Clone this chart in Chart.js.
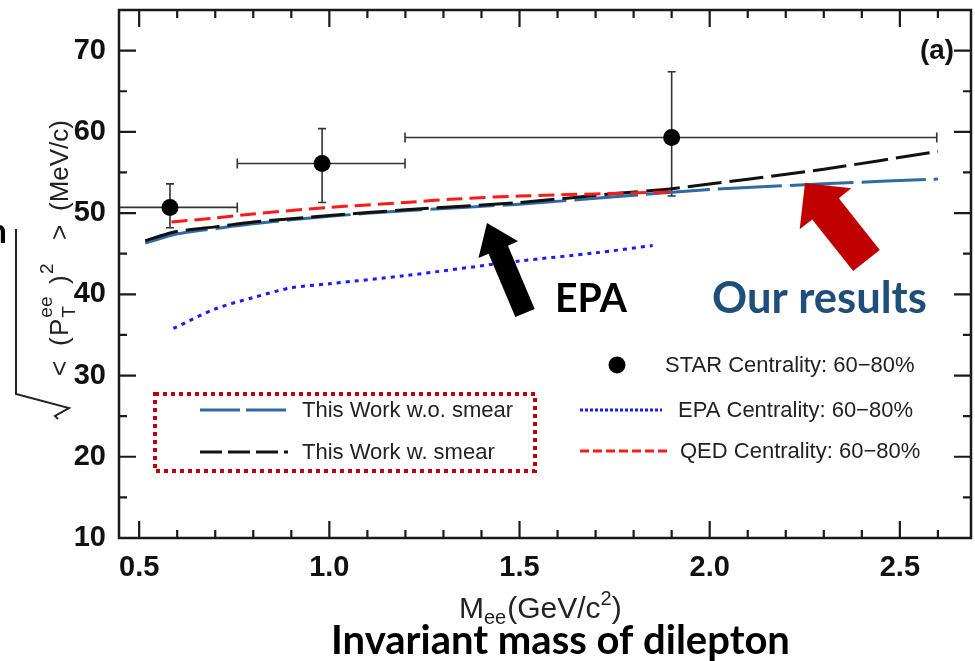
<!DOCTYPE html>
<html><head><meta charset="utf-8">
<script src="https://cdn.jsdelivr.net/npm/chart.js@4.4.1/dist/chart.umd.min.js"></script>
<style>html,body{margin:0;padding:0;background:#fff;overflow:hidden}#wrap{width:975px;height:661px;position:relative}</style>
</head><body><div id="wrap"><canvas id="c" width="975" height="661"></canvas></div>
<script>
// ---------------- data ----------------
const starMass  = [0.581, 0.981, 1.90];
const starPt    = [50.7, 56.1, 59.3];
const starMassLo = [0.40, 0.758, 1.199];
const starMassHi = [0.758, 1.199, 2.597];
const starPtLo  = [48.2, 51.3, 52.1];
const starPtHi  = [53.6, 60.4, 67.4];

const noSmearMass = [0.516, 0.595, 0.7, 0.8, 1.0, 1.2, 1.5, 1.75, 2.0, 2.3, 2.6];
const noSmearPt   = [46.3, 47.4, 48.1, 48.7, 49.6, 50.3, 51.1, 52.0, 52.9, 53.6, 54.2];
const smearMass   = [0.516, 0.595, 0.7, 0.8, 1.0, 1.2, 1.5, 1.75, 1.9, 2.3, 2.6];
const smearPt     = [46.6, 47.7, 48.3, 48.9, 49.7, 50.4, 51.3, 52.4, 53.0, 55.4, 57.6];
const qedMass     = [0.585, 0.7, 0.8, 1.0, 1.2, 1.32, 1.5, 1.9];
const qedPt       = [48.9, 49.4, 49.9, 50.7, 51.3, 51.7, 52.1, 52.6];
const epaMass     = [0.59, 0.7, 0.8, 0.9, 1.0, 1.2, 1.5, 1.7, 1.85];
const epaPt       = [35.8, 38.2, 39.6, 40.8, 41.3, 42.3, 44.1, 45.1, 46.0];

const xTickValues = [0.5, 1.0, 1.5, 2.0, 2.5];
const yTickValues = [10, 20, 30, 40, 50, 60, 70];

const labels = {
  star: 'STAR Centrality: 60\u221280%',
  epa: 'EPA Centrality: 60\u221280%',
  qed: 'QED Centrality: 60\u221280%',
  noSmear: 'This Work w.o. smear',
  smear: 'This Work w. smear'
};

const pts = (xs, ys) => xs.map((x, i) => ({x: x, y: ys[i]}));

const COL = {
  noSmear: '#2f6aa3', smear: '#111111', qed: '#ff1a1a', epa: '#1a1aff', star: '#000000', box: '#c00000',
  redArrow: '#c00000', ours: '#1f4e79', text: '#222222'
};

const AX = '"Liberation Sans", Arial, sans-serif';
const CAL = 'Lato, "Open Sans", sans-serif';

// --------------- plugins ---------------
const errorBars = {
  id: 'errorBars',
  beforeDatasetsDraw(chart) {
    const {ctx, chartArea: a, scales: {x, y}} = chart;
    ctx.save();
    ctx.beginPath(); ctx.rect(a.left, a.top, a.right - a.left, a.bottom - a.top); ctx.clip();
    ctx.strokeStyle = '#333'; ctx.lineWidth = 1.6;
    for (let i = 0; i < starMass.length; i++) {
      const px = x.getPixelForValue(starMass[i]), py = y.getPixelForValue(starPt[i]);
      const xl = x.getPixelForValue(starMassLo[i]), xh = x.getPixelForValue(starMassHi[i]);
      const yl = y.getPixelForValue(starPtLo[i]), yh = y.getPixelForValue(starPtHi[i]);
      ctx.beginPath();
      ctx.moveTo(xl, py); ctx.lineTo(xh, py);
      ctx.moveTo(xl, py - 5); ctx.lineTo(xl, py + 5);
      ctx.moveTo(xh, py - 5); ctx.lineTo(xh, py + 5);
      ctx.moveTo(px, yl); ctx.lineTo(px, yh);
      ctx.moveTo(px - 4, yl); ctx.lineTo(px + 4, yl);
      ctx.moveTo(px - 4, yh); ctx.lineTo(px + 4, yh);
      ctx.stroke();
    }
    ctx.restore();
  }
};

function fitSize(ctx, text, weight, family, targetW) {
  ctx.font = `${weight} 100px ${family}`;
  return 100 * targetW / ctx.measureText(text).width;
}
function fitText(ctx, text, weight, family, left, baseline, targetW, color) {
  const s = fitSize(ctx, text, weight, family, targetW);
  ctx.font = `${weight} ${s}px ${family}`;
  ctx.fillStyle = color; ctx.textAlign = 'left'; ctx.textBaseline = 'alphabetic';
  ctx.fillText(text, left, baseline);
}

function arrow(ctx, tail, tip, shaftHalf, headHalf, headLen, color) {
  const dx = tip[0] - tail[0], dy = tip[1] - tail[1];
  const L = Math.hypot(dx, dy), ux = dx / L, uy = dy / L, nx = -uy, ny = ux;
  const bx = tip[0] - ux * headLen, by = tip[1] - uy * headLen;
  ctx.beginPath();
  ctx.moveTo(tail[0] + nx * shaftHalf, tail[1] + ny * shaftHalf);
  ctx.lineTo(bx + nx * shaftHalf, by + ny * shaftHalf);
  ctx.lineTo(bx + nx * headHalf, by + ny * headHalf);
  ctx.lineTo(tip[0], tip[1]);
  ctx.lineTo(bx - nx * headHalf, by - ny * headHalf);
  ctx.lineTo(bx - nx * shaftHalf, by - ny * shaftHalf);
  ctx.lineTo(tail[0] - nx * shaftHalf, tail[1] - ny * shaftHalf);
  ctx.closePath();
  ctx.fillStyle = color; ctx.fill();
}

const decor = {
  id: 'decor',
  afterDraw(chart) {
    const {ctx, chartArea: a, scales: {x, y}} = chart;
    ctx.save();
    // frame
    ctx.strokeStyle = '#1a1a1a'; ctx.lineWidth = 2.5;
    ctx.strokeRect(a.left, a.top, a.right - a.left, a.bottom - a.top);
    // ticks (inward, all sides)
    ctx.lineWidth = 2.2;
    ctx.beginPath();
    for (let v = 0.5; v <= 2.65; v += 0.1) {
      const p = x.getPixelForValue(v);
      const major = Math.abs(v * 2 - Math.round(v * 2)) < 1e-6;
      const len = major ? 17 : 8;
      ctx.moveTo(p, a.bottom); ctx.lineTo(p, a.bottom - len);
      ctx.moveTo(p, a.top); ctx.lineTo(p, a.top + len);
    }
    for (let v = 10; v <= 75; v += 5) {
      const p = y.getPixelForValue(v);
      const major = v % 10 === 0;
      const len = major ? 17 : 8;
      ctx.moveTo(a.left, p); ctx.lineTo(a.left + len, p);
      ctx.moveTo(a.right, p); ctx.lineTo(a.right - len, p);
    }
    ctx.stroke();

    // legend box 1 (dotted red)
    ctx.strokeStyle = COL.box; ctx.lineWidth = 4; ctx.setLineDash([4, 4]);
    ctx.strokeRect(155, 394, 380, 77);
    ctx.setLineDash([]);

    const ds = chart.data.datasets;
    const legLine = (d, x0, x1, yy) => {
      ctx.save(); ctx.strokeStyle = d.borderColor; ctx.lineWidth = d.borderWidth;
      ctx.setLineDash(d.legendDash || d.borderDash || []);
      ctx.beginPath(); ctx.moveTo(x0, yy); ctx.lineTo(x1, yy); ctx.stroke(); ctx.restore();
    };
    ctx.font = `22px ${AX}`; ctx.fillStyle = COL.text; ctx.textBaseline = 'alphabetic'; ctx.textAlign = 'left';
    legLine(ds[3], 200, 288, 410); ctx.fillText(ds[3].label, 302, 417);
    legLine(ds[2], 200, 288, 452); ctx.fillText(ds[2].label, 302, 459);
    // legend 2
    ctx.beginPath(); ctx.arc(617, 365, 8.5, 0, Math.PI * 2); ctx.fillStyle = '#000'; ctx.fill();
    ctx.fillStyle = COL.text;
    ctx.fillText(ds[0].label, 665, 372);
    legLine(ds[4], 580, 662, 410); ctx.fillText(ds[4].label, 678, 417);
    legLine(ds[1], 580, 667, 451); ctx.fillText(ds[1].label, 680, 458);

    // (a)
    fitText(ctx, '(a)', 'bold', AX, 920, 59, 34, '#111');

    // arrows + annotations
    arrow(ctx, [525, 313], [487, 223], 10.5, 21.5, 29, '#000');
    arrow(ctx, [866.5, 260.5], [805, 183], 17, 33, 33, COL.redArrow);
    fitText(ctx, 'EPA', 'bold', CAL, 555, 312, 72, '#000');
    fitText(ctx, 'Our results', 'bold', CAL, 712, 313, 215, COL.ours);
    fitText(ctx, 'Invariant mass of dilepton', 'bold', CAL, 331, 654, 459, '#000');
    // clipped fragment at far left
    ctx.font = `bold 34px ${CAL}`; ctx.fillStyle = '#000';
    ctx.textAlign = 'right'; ctx.fillText('n', 7, 243); ctx.textAlign = 'left';

    // x axis title: M_ee(GeV/c^2)
    {
      const F = 30, S = 20; let u = 459; const base = 618;
      ctx.fillStyle = COL.text;
      ctx.font = `${F}px ${AX}`; ctx.fillText('M', u, base); u += ctx.measureText('M').width;
      ctx.font = `${S}px ${AX}`; ctx.fillText('ee', u, base + 6); u += ctx.measureText('ee').width + 1;
      ctx.font = `${F}px ${AX}`; ctx.fillText('(GeV/c', u, base); u += ctx.measureText('(GeV/c').width;
      ctx.font = `${S}px ${AX}`; ctx.fillText('2', u, base - 13); u += ctx.measureText('2').width;
      ctx.font = `${F}px ${AX}`; ctx.fillText(')', u, base);
    }

    // y axis title: sqrt(< (P_T^ee)^2 >) (MeV/c), rotated
    {
      ctx.save();
      ctx.translate(68, 420); ctx.rotate(-Math.PI / 2);
      ctx.fillStyle = COL.text; ctx.strokeStyle = COL.text;
      const F = 26, S = 19;
      const put = (t, size, u, v) => { ctx.font = `${size}px ${AX}`; ctx.fillText(t, u, v); return ctx.measureText(t).width; };
      put('<', F, 44, 0);
      put('(', F, 74, 0);
      const wP = put('P', F, 84, 0);
      put('T', S, 85 + wP, 7);
      put('ee', S, 85 + wP, -16);
      put(')', F, 136, 0);
      put('2', S, 146, -15);
      put('>', F, 180, 0);
      put('(MeV/c)', F, 209, 0);
      // radical
      ctx.lineWidth = 2; ctx.lineJoin = 'miter';
      ctx.beginPath();
      ctx.moveTo(191, -52); ctx.lineTo(26, -52);
      ctx.lineTo(12, 1); ctx.lineTo(4, -13); ctx.lineTo(1, -10);
      ctx.stroke();
      ctx.restore();
    }
    ctx.restore();
  }
};

// --------------- chart ---------------
const tickFont = {family: AX, weight: 'bold', size: 29};
new Chart(document.getElementById('c').getContext('2d'), {
  type: 'scatter',
  data: {
    datasets: [
      {label: labels.star, data: pts(starMass, starPt), showLine: false, pointRadius: 8.5,
       pointBackgroundColor: COL.star, pointBorderColor: COL.star, pointBorderWidth: 0, order: 0},
      {label: labels.qed, data: pts(qedMass, qedPt), showLine: true, borderColor: COL.qed, borderWidth: 3,
       borderDash: [16, 7], legendDash: [9, 4], pointRadius: 0, tension: 0.3, order: 1},
      {label: labels.smear, data: pts(smearMass, smearPt), showLine: true, borderColor: COL.smear, borderWidth: 3,
       borderDash: [34, 8], legendDash: [22, 6], pointRadius: 0, tension: 0.2, order: 2},
      {label: labels.noSmear, data: pts(noSmearMass, noSmearPt), showLine: true, borderColor: COL.noSmear, borderWidth: 3,
       borderDash: [64, 8], legendDash: [40, 6], pointRadius: 0, tension: 0.2, order: 3},
      {label: labels.epa, data: pts(epaMass, epaPt), showLine: true, borderColor: COL.epa, borderWidth: 3,
       borderDash: [4, 5], legendDash: [3, 2], pointRadius: 0, tension: 0.3, order: 4}
    ]
  },
  options: {
    responsive: false, animation: false, devicePixelRatio: 1,
    layout: {autoPadding: false, padding: {top: 10, right: 4, left: 0, bottom: 0}},
    plugins: {legend: {display: false}, tooltip: {enabled: false}},
    scales: {
      x: {
        type: 'linear', min: 0.447, max: 2.687,
        grid: {display: false}, border: {display: false},
        afterBuildTicks: s => { s.ticks = xTickValues.map(v => ({value: v})); },
        ticks: {font: tickFont, color: '#111', padding: 5, maxRotation: 0, autoSkip: false,
                callback: v => Number(v).toFixed(1)},
        afterFit: s => { s.height = 123; s.paddingLeft = 0; s.paddingRight = 0; }
      },
      y: {
        type: 'linear', min: 10, max: 75,
        grid: {display: false}, border: {display: false},
        afterBuildTicks: s => { s.ticks = yTickValues.map(v => ({value: v})); },
        ticks: {font: tickFont, color: '#111', padding: 5, autoSkip: false},
        afterFit: s => { s.width = 119; s.paddingTop = 0; s.paddingBottom = 0; }
      }
    }
  },
  plugins: [errorBars, decor]
});
</script>
</body></html>
